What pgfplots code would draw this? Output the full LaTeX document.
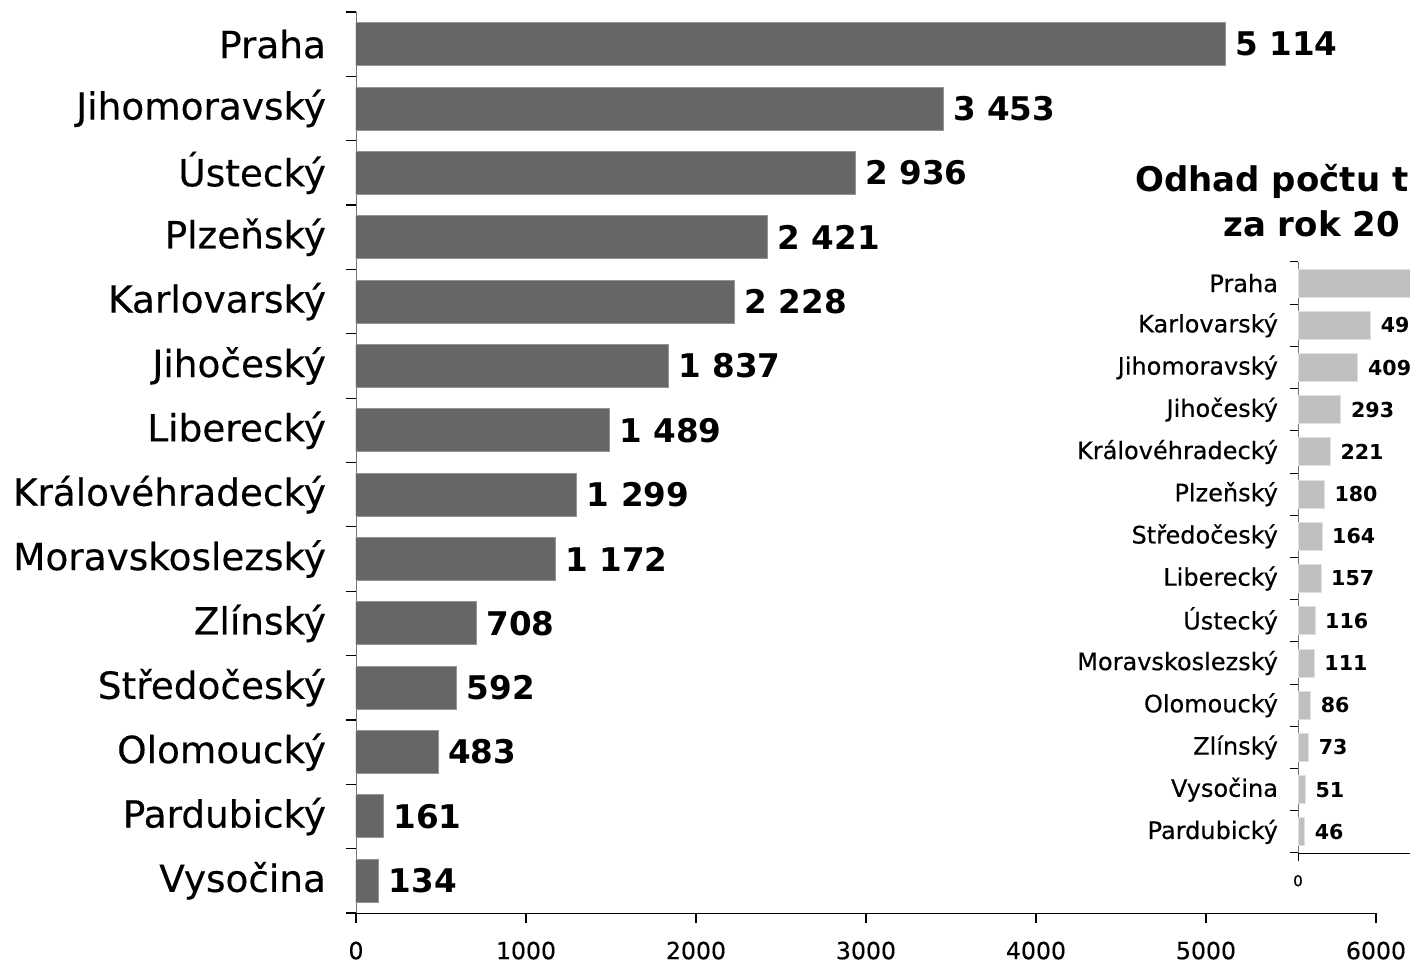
\documentclass[border=0pt]{standalone}
\usepackage{fontspec}
\setmainfont{DejaVu Sans}
\newfontfamily\labelfont[FakeBold=0.4]{DejaVu Sans}
\usepackage{pgfplots}
\pgfplotsset{compat=1.18}

% main chart, top to bottom reversed (y=0 is the lowest bar)
\newcommand{\mainlabels}{Vysočina,Pardubický,Olomoucký,Středočeský,Zlínský,Moravskoslezský,Královéhradecký,Liberecký,Jihočeský,Karlovarský,Plzeňský,Ústecký,Jihomoravský,Praha}
\newcommand{\insetlabels}{Pardubický,Vysočina,Zlínský,Olomoucký,Moravskoslezský,Ústecký,Liberecký,Středočeský,Plzeňský,Královéhradecký,Jihočeský,Jihomoravský,Karlovarský,Praha}

\begin{document}
\begin{tikzpicture}
\path[use as bounding box, clip] (0,0) rectangle (705pt,481.5pt);

\begin{axis}[
  at={(178pt,25pt)}, anchor=south west,
  scale only axis, width=510pt, height=450.5pt,
  xbar, bar width=21.5pt, bar shift=0pt,
  xmin=0, xmax=6000, ymin=-0.5, ymax=13.5,
  axis x line*=bottom, axis y line*=left,
  y axis line style={draw=black!55},
  xtick={0,1000,...,6000},
  ytick={-0.5,0.5,...,13.5},
  y tick label as interval,
  yticklabels/.expanded={\mainlabels},
  tick align=outside, major tick length=5pt,
  tick style={black, line width=0.6pt},
  scaled x ticks=false,
  /pgf/number format/1000 sep={},
  xticklabel style={font=\labelfont\fontsize{11.8}{13}\selectfont, yshift=-5.8pt},
  yticklabel style={font=\labelfont\fontsize{18.7}{20}\selectfont, xshift=-6.5pt},
  /pgf/number format/assume math mode=true,
  nodes near coords, nodes near coords align={horizontal},
  every node near coord/.append style={font=\fontsize{16.3}{18}\selectfont\bfseries, xshift=1.5pt,
    /pgf/number format/1000 sep={\ }},
]
\addplot[fill=black!60, draw=black!42, line width=0.5pt] coordinates {
  (134,0) (161,1) (483,2) (592,3) (708,4) (1172,5) (1299,6)
  (1489,7) (1837,8) (2228,9) (2421,10) (2936,11) (3453,12) (5114,13)
};
\end{axis}

\node[anchor=base west, font=\fontsize{17}{19}\selectfont\bfseries, inner sep=0pt] at (567.5pt,385.5pt) {Odhad počtu t};
\node[anchor=base west, font=\fontsize{17}{19}\selectfont\bfseries, inner sep=0pt] at (611.5pt,363pt) {za rok 20};

\begin{axis}[
  at={(649pt,55pt)}, anchor=south west,
  scale only axis, width=73.25pt, height=295.5pt,
  xbar, bar width=14pt, bar shift=0pt,
  xmin=0, xmax=1000, ymin=-0.5, ymax=13.5,
  axis x line*=bottom, axis y line*=left,
  y axis line style={draw=black!55},
  xtick={0},
  ytick={-0.5,0.5,...,13.5},
  y tick label as interval,
  yticklabels/.expanded={\insetlabels},
  tick align=outside, major tick length=4pt,
  tick style={black, line width=0.5pt},
  xticklabel style={font=\labelfont\fontsize{7.5}{8}\selectfont, yshift=-3.5pt},
  yticklabel style={font=\labelfont\fontsize{12}{14}\selectfont, xshift=-2.5pt},
  /pgf/number format/assume math mode=true,
  nodes near coords, nodes near coords align={horizontal},
  every node near coord/.append style={font=\fontsize{10.3}{12}\selectfont\bfseries, xshift=1.5pt},
]
\addplot[fill=black!25, draw=black!12, line width=0.5pt] coordinates {
  (46,0) (51,1) (73,2) (86,3) (111,4) (116,5) (157,6)
  (164,7) (180,8) (221,9) (293,10) (409,11) (496,12) (900,13)
};
\end{axis}
\end{tikzpicture}
\end{document}
